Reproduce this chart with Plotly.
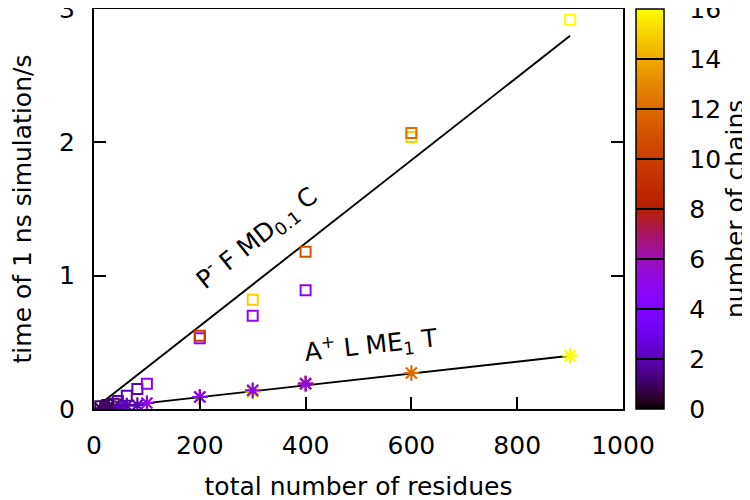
import numpy as np
import plotly.graph_objects as go

# --- data -------------------------------------------------------------
# P- F MD0.1 C  (open squares)
sq_x = [12, 25, 37, 45, 62, 82, 100, 200, 200, 300, 300, 400, 400, 600, 600, 900]
sq_y = [0.02, 0.03, 0.04, 0.06, 0.10, 0.15, 0.19, 0.53, 0.55, 0.70, 0.82, 0.89, 1.18, 2.04, 2.07, 2.92]
sq_c = [1, 1, 1, 2, 2, 2, 5, 5, 10, 5, 15, 5, 11, 15, 12, 16]

# A+ L ME1 T  (asterisks)
as_x = [12, 25, 37, 50, 62, 82, 100, 200, 200, 300, 300, 400, 400, 600, 900]
as_y = [0.005, 0.01, 0.015, 0.02, 0.025, 0.03, 0.045, 0.09, 0.09, 0.13, 0.14, 0.19, 0.19, 0.27, 0.40]
as_c = [1, 1, 1, 2, 2, 2, 5, 10, 5, 15, 5, 10, 5, 12, 16]

# linear fits (time = slope * residues)
fit_range = [10, 900]
slope_P = 0.00311
slope_A = 0.000444

x_ticks = [0, 200, 400, 600, 800, 1000]
y_ticks = [0, 1, 2, 3]
cb_ticks = [0, 2, 4, 6, 8, 10, 12, 14, 16]
cb_min, cb_max = 0, 16


# gnuplot default palette (rgbformulae 7,5,15)
def gp_rgb(t):
    r = np.sqrt(t)
    g = t ** 3
    b = max(0.0, np.sin(2 * np.pi * t))
    return "rgb(%d,%d,%d)" % (round(255 * r), round(255 * g), round(255 * b))


def gnuplot_colorscale(n=64):
    return [[float(t), gp_rgb(t)] for t in np.linspace(0, 1, n)]


def gnuplot_colorscale_with_lines(ticks, lo, hi, half=0.003, n=64):
    # same palette, with thin black bands at the inner tick positions (colorbar only)
    pts = {float(t): gp_rgb(t) for t in np.linspace(0, 1, n)}
    marks = [(v - lo) / (hi - lo) for v in ticks[1:-1]]
    for m in marks:
        for k in list(pts):
            if abs(k - m) <= half + 1e-9:
                del pts[k]
    out = [[k, c] for k, c in pts.items()]
    for m in marks:
        out += [[m - half - 1e-4, gp_rgb(m - half)], [m - half, "black"],
                [m + half, "black"], [m + half + 1e-4, gp_rgb(m + half)]]
    out.sort(key=lambda s: s[0])
    return out


cs = gnuplot_colorscale()
cs_bar = gnuplot_colorscale_with_lines(cb_ticks, cb_min, cb_max)
FONT = "DejaVu Sans"
FS = 25

# layout geometry (pixels, figure coordinates; page has an 8px body margin)
W, H = 750, 500
ML, MR, MT, MB = 86, 135, 1, 99
plot_w = W - ML - MR
CB_X = 1.0246
CB_TH = 28

fig = go.Figure()

fx = np.array(fit_range, dtype=float)
fig.add_trace(go.Scatter(x=fx, y=slope_P * fx, mode="lines",
                         line=dict(color="black", width=1.9), showlegend=False, hoverinfo="skip"))
fig.add_trace(go.Scatter(x=fx, y=slope_A * fx, mode="lines",
                         line=dict(color="black", width=1.9), showlegend=False, hoverinfo="skip"))

fig.add_trace(go.Scatter(
    x=sq_x, y=sq_y, mode="markers", showlegend=False,
    marker=dict(symbol="square-open", size=10, color=sq_c, colorscale=cs, cmin=cb_min, cmax=cb_max,
                line=dict(width=2), showscale=False)))

fig.add_trace(go.Scatter(
    x=as_x, y=as_y, mode="markers", showlegend=False,
    marker=dict(symbol="asterisk-open", size=13, color=as_c, colorscale=cs, cmin=cb_min, cmax=cb_max,
                line=dict(width=2.2), showscale=False)))

# invisible carrier trace for the colorbar (palette with tick lines)
fig.add_trace(go.Scatter(
    x=[None], y=[None], mode="markers", showlegend=False, hoverinfo="skip",
    marker=dict(color=[cb_min], colorscale=cs_bar, cmin=cb_min, cmax=cb_max, showscale=True,
                colorbar=dict(
                    x=CB_X, xanchor="left", xref="paper",
                    y=0.5, yanchor="middle", len=1.0, lenmode="fraction",
                    thickness=CB_TH, thicknessmode="pixels",
                    outlinecolor="black", outlinewidth=1.5,
                    ticks="outside", ticklen=20, tickwidth=1, tickcolor="rgba(0,0,0,0)",
                    tickvals=cb_ticks, ticktext=[str(v) for v in cb_ticks],
                    ticklabeloverflow="allow",
                    tickfont=dict(family=FONT, size=FS, color="black"),
                    xpad=0, ypad=0,
                ))))

# colorbar title
fig.add_annotation(x=(727 - ML) / plot_w, y=0.5, xref="paper", yref="paper", showarrow=False,
                   xanchor="center", yanchor="middle", textangle=-90,
                   text="number of chains", font=dict(family=FONT, size=FS, color="black"))

fig.add_annotation(x=308, y=1.28, xref="x", yref="y", showarrow=False,
                   text="P<sup>-</sup> F MD<sub>0.1</sub> C", textangle=-38.5,
                   font=dict(family=FONT, size=FS, color="black"))
fig.add_annotation(x=524, y=0.48, xref="x", yref="y", showarrow=False,
                   text="A<sup>+</sup> L ME<sub>1</sub> T", textangle=-6.5,
                   font=dict(family=FONT, size=FS, color="black"))

fig.update_xaxes(range=[0, 1000], tickvals=x_ticks, ticks="inside", ticklen=12, tickwidth=1.5,
                 tickcolor="black", showline=True, linecolor="black", linewidth=2, mirror=True,
                 showgrid=False, zeroline=False, ticklabeloverflow="allow", ticklabelstandoff=13,
                 tickfont=dict(family=FONT, size=FS, color="black"),
                 title=dict(text="total number of residues", standoff=18,
                            font=dict(family=FONT, size=FS, color="black")))
fig.update_yaxes(range=[0, 3], tickvals=y_ticks, ticks="inside", ticklen=12, tickwidth=1.5,
                 tickcolor="black", showline=True, linecolor="black", linewidth=2, mirror="ticks",
                 showgrid=False, zeroline=False, ticklabeloverflow="allow", ticklabelstandoff=12,
                 tickfont=dict(family=FONT, size=FS, color="black"),
                 title=dict(text="time of 1 ns simulation/s", standoff=26,
                            font=dict(family=FONT, size=FS, color="black")))

fig.update_layout(width=W, height=H, margin=dict(l=ML, r=MR, t=MT, b=MB, autoexpand=False),
                  plot_bgcolor="white", paper_bgcolor="white",
                  font=dict(family=FONT, size=FS, color="black"))

fig.write_html("out.html")
